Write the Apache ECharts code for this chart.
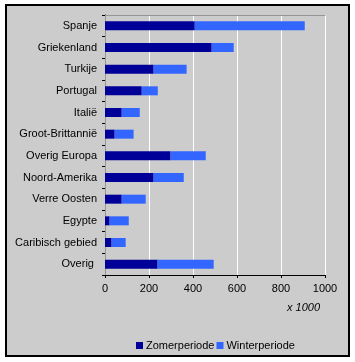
<!DOCTYPE html>
<html>
<head>
<meta charset="utf-8">
<script src="https://cdn.jsdelivr.net/npm/echarts@6/dist/echarts.min.js"></script>
<style>
html,body{margin:0;padding:0;background:#ffffff;}
#chart{width:355px;height:362px;}
</style>
</head>
<body>
<div id="chart"></div>
<script>
var categories = ['Spanje','Griekenland','Turkije','Portugal','Italië','Groot-Brittannië','Overig Europa','Noord-Amerika','Verre Oosten','Egypte','Caribisch gebied','Overig '];
var zomerperiode = [408, 485, 221, 167, 76, 44, 298, 221, 76, 21, 30, 239];
var winterperiode = [500, 100, 150, 73, 82, 86, 160, 137, 109, 87, 64, 255];
var xTicks = [0, 200, 400, 600, 800, 1000];
var unitLabel = 'x 1000';

var FONT = '"Liberation Sans", Arial, sans-serif';
var chart = echarts.init(document.getElementById('chart'), null, {renderer:'canvas'});
chart.setOption({
  animation: false,
  backgroundColor: '#ffffff',
  textStyle: {fontFamily: FONT},
  graphic: [{
    type: 'rect', z: -10, silent: true,
    shape: {x: 6, y: 5, width: 343, height: 351},
    style: {fill: '#cccccc', stroke: '#000000', lineWidth: 2}
  }],
  title: {
    text: unitLabel, right: 30, top: 297,
    textStyle: {fontFamily: FONT, fontSize: 11, fontStyle: 'italic', fontWeight: 'normal', color: '#000'}
  },
  grid: {left: 105, right: 30, top: 15, bottom: 87, show: false},
  legend: {
    left: 131, top: 335, itemWidth: 7, itemHeight: 7, itemGap: 2,
    icon: 'rect',
    textStyle: {fontFamily: FONT, fontSize: 11, color: '#000', padding: [0,0,0,-2]},
    data: ['Zomerperiode','Winterperiode']
  },
  xAxis: [{
    type: 'value', min: xTicks[0], max: xTicks[xTicks.length-1], interval: 200,
    axisLine: {show: true, lineStyle: {color: '#000', width: 1}},
    axisTick: {show: true, length: 3, lineStyle: {color: '#000'}},
    axisLabel: {fontFamily: FONT, fontSize: 11, color: '#000', margin: 8, formatter: function (v) { return String(v); }},
    splitLine: {show: true, lineStyle: {color: '#ffffff', width: 1}}
  }, {
    type: 'value', position: 'top', min: 0, max: 1000, interval: 200,
    axisLine: {show: true, lineStyle: {color: '#969696', width: 1}},
    axisTick: {show: false}, axisLabel: {show: false}, splitLine: {show: false}
  }],
  yAxis: [{
    type: 'category', data: categories, inverse: true,
    axisLine: {show: true, lineStyle: {color: '#000', width: 1}},
    axisTick: {show: true, length: 3, alignWithLabel: false, lineStyle: {color: '#000'}},
    axisLabel: {fontFamily: FONT, fontSize: 11, color: '#000', margin: 8},
    splitLine: {show: false}
  }, {
    type: 'category', data: categories, inverse: true, position: 'right',
    axisLine: {show: true, lineStyle: {color: '#969696', width: 1}},
    axisTick: {show: false}, axisLabel: {show: false}, splitLine: {show: false}
  }],
  series: [{
    name: 'Zomerperiode', type: 'bar', stack: 'tot', barWidth: 9,
    data: zomerperiode, itemStyle: {color: '#000099'}
  }, {
    name: 'Winterperiode', type: 'bar', stack: 'tot', barWidth: 9,
    data: winterperiode, itemStyle: {color: '#3366ff'}
  }]
});
</script>
</body>
</html>
